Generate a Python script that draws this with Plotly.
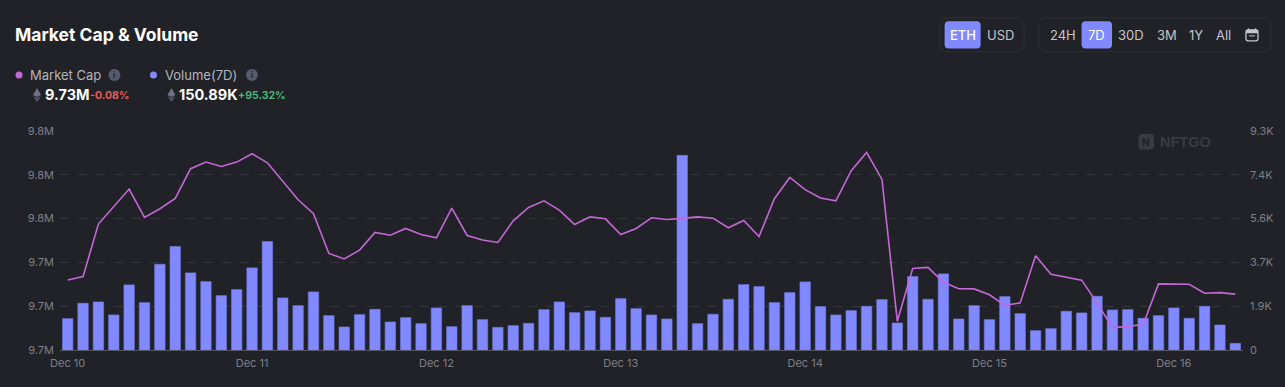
import plotly.graph_objects as go

W, H = 1285, 387
L, R, T, B = 60.0, 1243.5, 131.0, 349.7

days = ["Dec 10", "Dec 11", "Dec 12", "Dec 13", "Dec 14", "Dec 15", "Dec 16"]
steps = ["00:00", "02:00", "04:00", "06:00", "08:00", "10:00",
         "12:00", "14:00", "16:00", "18:00", "20:00", "22:00"]
times = [f"{d} {s}" for d in days for s in steps][:77]
day_ticks = [f"{d} 00:00" for d in days]

market_cap = [
    9732000, 9733500, 9757500, 9765700, 9773500, 9760500, 9764500, 9769200, 9782800, 9785800, 9783800, 9785800,
    9789600, 9785500, 9777100, 9768600, 9762200, 9744100, 9741600, 9745600, 9753700, 9752400, 9755500, 9752700,
    9751200, 9764800, 9752300, 9750200, 9749100, 9759000, 9765100, 9768100, 9763900, 9757300, 9760800, 9759900,
    9752700, 9755500, 9760400, 9759600, 9760100, 9760800, 9760200, 9755800, 9759100, 9751800, 9769100, 9778800,
    9773200, 9769400, 9768100, 9781900, 9790200, 9777900, 9713100, 9737200, 9737700, 9730900, 9728000, 9727900,
    9725200, 9720400, 9721500, 9743000, 9734600, 9733400, 9731900, 9721500, 9710200, 9710800, 9711600, 9730200,
    9730000, 9730000, 9725900, 9726200, 9725500,
]
volume = [
    1333, 1985, 2041, 1489, 2765, 2013, 3643, 4395, 3275, 2906, 2311, 2566,
    3488, 4608, 2212, 1886, 2467, 1460, 978, 1503, 1730, 1191, 1375, 1120,
    1786, 992, 1886, 1290, 964, 1035, 1134, 1715, 2041, 1588, 1659, 1389,
    2183, 1758, 1489, 1318, 8265, 1120, 1517, 2155, 2779, 2694, 2013, 2438,
    2892, 1843, 1489, 1673, 1857, 2141, 1148, 3119, 2155, 3232, 1318, 1886,
    1290, 2268, 1545, 822, 907, 1645, 1574, 2283, 1701, 1715, 1347, 1460,
    1786, 1347, 1857, 1063, 284,
]
cap_ticks = [9700000, 9720000, 9740000, 9760000, 9780000, 9800000]
cap_labels = ["9.7M", "9.7M", "9.7M", "9.8M", "9.8M", "9.8M"]
vol_ticks = [0, 1860, 3720, 5580, 7440, 9300]
vol_labels = ["0", "1.9K", "3.7K", "5.6K", "7.4K", "9.3K"]

BG = "#212227"
BAR = "#8089ff"
LINE = "#c468d8"
FONT = "Inter"
AXIS_TXT = "#7e7f88"

pw, ph = R - L, B - T
fx = lambda x: (x - L) / pw
fy = lambda y: (B - y) / ph


def poly(points, close=True):
    s = "M" + " L".join(f"{fx(x):.5f},{fy(y):.5f}" for x, y in points)
    return s + (" Z" if close else "")


def rrect(x0, y0, x1, y1, r):
    a, b, c, d = fx(x0), fx(x1), fy(y0), fy(y1)
    rx, ry = r / pw, r / ph
    return (f"M{a+rx:.5f},{c:.5f} L{b-rx:.5f},{c:.5f} Q{b:.5f},{c:.5f} {b:.5f},{c-ry:.5f} "
            f"L{b:.5f},{d+ry:.5f} Q{b:.5f},{d:.5f} {b-rx:.5f},{d:.5f} L{a+rx:.5f},{d:.5f} "
            f"Q{a:.5f},{d:.5f} {a:.5f},{d+ry:.5f} L{a:.5f},{c-ry:.5f} Q{a:.5f},{c:.5f} {a+rx:.5f},{c:.5f} Z")


shapes, annotations = [], []


def path(d, fill="rgba(0,0,0,0)", line=None, lw=1):
    shapes.append(dict(type="path", xref="paper", yref="paper", path=d, fillcolor=fill,
                       line=dict(color=line or "rgba(0,0,0,0)", width=lw if line else 0)))


def circle(cx, cy, r, fill):
    shapes.append(dict(type="circle", xref="paper", yref="paper", x0=fx(cx - r), x1=fx(cx + r),
                       y0=fy(cy + r), y1=fy(cy - r), fillcolor=fill, line=dict(width=0)))


def text(x, y, s, size, color, anchor="left", weight=400, family=FONT):
    annotations.append(dict(xref="paper", yref="paper", x=fx(x), y=fy(y), text=s, showarrow=False,
                            xanchor=anchor, yanchor="middle", align=anchor, borderpad=0, borderwidth=0,
                            font=dict(size=size, color=color, family=family, weight=weight)))


def eth(cx, cy):
    path(poly([(cx, cy - 7), (cx + 4, cy), (cx, cy + 2), (cx - 4, cy)]), fill="#6f7188")
    path(poly([(cx, cy + 3), (cx + 4, cy + 1), (cx, cy + 7), (cx - 4, cy + 1)]), fill="#565870")


def info(cx, cy):
    circle(cx, cy, 6, "#565a6c")
    text(cx, cy, "i", 8, "#23242a", "center", 700)


# header
text(15, 35, "Market Cap &amp; Volume", 17.5, "#ffffff", weight=700)
circle(19, 75, 3.5, LINE)
text(30, 75, "Market Cap", 13, "#b4b5bc")
info(114.5, 75)
circle(153.5, 75, 3.5, BAR)
text(165, 75, "Volume(7D)", 13, "#b4b5bc")
info(252, 75)
eth(37, 95)
text(44.5, 95, "9.73M", 14.5, "#ffffff", weight=700)
text(90, 96, "-0.08%", 10.5, "#e25c5c", weight=700)
eth(171.5, 95)
text(179, 95, "150.89K", 14.5, "#ffffff", weight=700)
text(238, 96, "+95.32%", 10.5, "#45b877", weight=700)

# controls
path(rrect(940.7, 18, 1024.5, 52, 8), line="#2f3036", lw=1)
path(rrect(1039.3, 18, 1271.5, 52, 8), line="#2f3036", lw=1)
path(rrect(945, 21.5, 981, 48.5, 4), fill=BAR)
path(rrect(1082, 21.5, 1112.5, 48.5, 4), fill=BAR)
text(963, 35, "ETH", 13, "#ffffff", "center", 500)
text(1001, 35, "USD", 13, "#c4c5cb", "center")
for cx, lab, col in [(1063, "24H", "#c4c5cb"), (1097, "7D", "#ffffff"), (1131.5, "30D", "#c4c5cb"),
                     (1167, "3M", "#c4c5cb"), (1196, "1Y", "#c4c5cb"), (1224, "All", "#c4c5cb")]:
    text(cx, 35, lab, 13, col, "center")
# calendar icon
path(rrect(1246.5, 30, 1258.5, 41, 2), line="#c4c5cb", lw=1.3)
path(rrect(1246.5, 30, 1258.5, 33.5, 1), fill="#c4c5cb")
path(poly([(1249, 28.5), (1249, 31)], False), line="#c4c5cb", lw=1.2)
path(poly([(1256, 28.5), (1256, 31)], False), line="#c4c5cb", lw=1.2)
path(poly([(1249.5, 36), (1255.5, 36)], False), line="#c4c5cb", lw=1)

# watermark
path(rrect(1139, 134, 1154.5, 149.5, 3), fill="#3a3b41")
text(1146.7, 142, "N", 10, "#212227", "center", 800)
text(1160, 142, "NFTGO", 14.5, "#3a3b41", weight=700, family="Liberation Sans")

fig = go.Figure()
fig.add_trace(go.Bar(x=times, y=volume, yaxis="y", width=0.68,
                     marker=dict(color=BAR, line=dict(color="#7078e0", width=0.6))))
fig.add_trace(go.Scatter(x=times, y=market_cap, yaxis="y2", mode="lines",
                         line=dict(color=LINE, width=1.6, shape="linear")))

fig.update_layout(
    width=W, height=H, autosize=False, showlegend=False, bargap=0.32,
    paper_bgcolor=BG, plot_bgcolor=BG,
    margin=dict(l=L, r=W - R, t=T, b=H - B, pad=0),
    font=dict(family=FONT, size=11, color=AXIS_TXT),
    xaxis=dict(type="category", categoryorder="array", categoryarray=times, range=[-0.5, 76.5],
               tickmode="array", tickvals=day_ticks, ticktext=days, showgrid=False, zeroline=False,
               showline=True, linecolor="#555766", linewidth=1, ticks="", ticklabelstandoff=3,
               tickfont=dict(size=11, color=AXIS_TXT)),
    yaxis=dict(side="right", range=[0, 9300], tickmode="array", tickvals=vol_ticks, ticktext=vol_labels,
               showgrid=True, gridcolor="#35363c", griddash="dash", gridwidth=1, zeroline=False, showline=False,
               ticks="", ticklabelstandoff=6, tickfont=dict(size=11, color=AXIS_TXT)),
    yaxis2=dict(side="left", overlaying="y", range=[9700000, 9800000], tickmode="array",
                tickvals=cap_ticks, ticktext=cap_labels, showgrid=False, zeroline=False, showline=False,
                ticks="", ticklabelstandoff=5, tickfont=dict(size=11, color=AXIS_TXT)),
    shapes=shapes, annotations=annotations, hovermode=False,
)

fig.write_html("out.html", config=dict(displayModeBar=False),
               post_script="document.body.style.margin='0';document.body.style.background='%s';"
                           "document.documentElement.style.overflow='hidden';" % BG)
